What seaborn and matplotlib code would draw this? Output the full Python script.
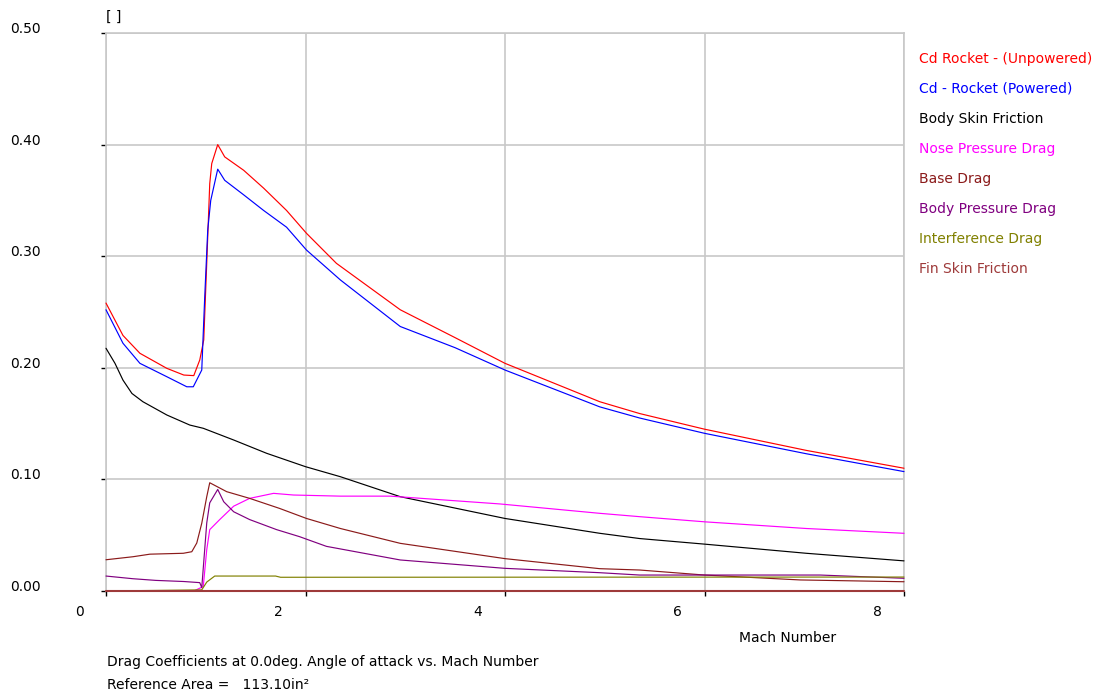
import matplotlib
matplotlib.use("Agg")
import matplotlib.pyplot as plt
import matplotlib.transforms as mtransforms
import pandas as pd
import seaborn as sns

# values (Mach number vs drag coefficient)
mach_unpowered = [0.0, 0.17, 0.34, 0.61, 0.78, 0.88, 0.94, 0.98, 1.01, 1.04, 1.06, 1.12, 1.19,
                  1.38, 1.58, 1.81, 2.01, 2.31, 2.95, 3.5, 4.0, 4.95, 5.35, 6.0, 7.02, 8.0]
cd_unpowered = [0.258, 0.229, 0.213, 0.1995, 0.1935, 0.193, 0.207, 0.225, 0.294, 0.365, 0.383, 0.400, 0.389,
                0.377, 0.361, 0.341, 0.3205, 0.2936, 0.252, 0.227, 0.204, 0.1696, 0.159, 0.145, 0.126, 0.110]

mach_powered = [0.0, 0.17, 0.34, 0.61, 0.81, 0.875, 0.96, 0.99, 1.02, 1.05, 1.12, 1.19, 1.38,
                1.58, 1.81, 2.01, 2.35, 2.95, 3.5, 4.0, 4.95, 5.35, 6.0, 7.02, 8.0]
cd_powered = [0.252, 0.222, 0.204, 0.192, 0.183, 0.183, 0.198, 0.264, 0.3235, 0.350, 0.378, 0.368, 0.355,
              0.341, 0.326, 0.3055, 0.2787, 0.237, 0.218, 0.198, 0.165, 0.155, 0.1413, 0.123, 0.107]

mach_skin = [0.0, 0.09, 0.17, 0.26, 0.37, 0.61, 0.84, 0.975, 1.28, 1.61, 2.0, 2.35, 2.95,
             4.0, 4.95, 5.35, 6.0, 7.02, 8.0]
cd_skin = [0.2175, 0.204, 0.189, 0.177, 0.1696, 0.1577, 0.1487, 0.1458, 0.1353, 0.1234, 0.1114, 0.1024, 0.0845,
           0.065, 0.0517, 0.047, 0.042, 0.0338, 0.027]

mach_nose = [0.0, 0.88, 0.975, 1.01, 1.04, 1.14, 1.28, 1.44, 1.68, 1.88, 2.35, 2.85,
             3.95, 4.95, 5.35, 6.0, 7.02, 8.0]
cd_nose = [0.0, 0.0, 0.004, 0.037, 0.055, 0.064, 0.076, 0.083, 0.0875, 0.086, 0.085, 0.085,
           0.078, 0.0696, 0.0666, 0.062, 0.056, 0.0517]

mach_base = [0.0, 0.27, 0.44, 0.775, 0.86, 0.91, 0.96, 1.01, 1.04, 1.21, 1.44, 1.74, 2.01,
             2.35, 2.95, 4.0, 4.95, 5.35, 6.0, 6.96, 8.0]
cd_base = [0.028, 0.0307, 0.033, 0.0338, 0.0352, 0.043, 0.0607, 0.0845, 0.097, 0.089, 0.083, 0.074, 0.065,
           0.056, 0.0427, 0.029, 0.020, 0.0188, 0.0143, 0.0099, 0.0083]

mach_bodyp = [0.0, 0.27, 0.5, 0.78, 0.94, 0.96, 1.01, 1.04, 1.12, 1.18, 1.28, 1.44, 1.71,
              1.94, 2.21, 2.95, 4.0, 4.95, 5.35, 6.0, 7.16, 8.0]
cd_bodyp = [0.0134, 0.011, 0.0095, 0.0085, 0.0075, 0.003, 0.061, 0.079, 0.091, 0.080, 0.071, 0.064, 0.055,
            0.0487, 0.040, 0.0278, 0.0203, 0.0164, 0.0143, 0.0143, 0.0143, 0.0114]

mach_interf = [0.0, 0.96, 1.01, 1.09, 1.7, 1.75, 8.0]
cd_interf = [0.0, 0.001, 0.008, 0.0134, 0.0134, 0.0123, 0.0125]

mach_fin = [0.0, 2.0, 4.0, 6.0, 8.0]
cd_fin = [0.0, 0.0, 0.0, 0.0, 0.0]

series = [
    ("Cd Rocket - (Unpowered)", mach_unpowered, cd_unpowered, "#ff0000", 0.85),
    ("Cd - Rocket (Powered)", mach_powered, cd_powered, "#0000ff", 0.85),
    ("Body Skin Friction", mach_skin, cd_skin, "#000000", 0.85),
    ("Nose Pressure Drag", mach_nose, cd_nose, "#ff00ff", 0.85),
    ("Base Drag", mach_base, cd_base, "#8b1a1a", 0.85),
    ("Body Pressure Drag", mach_bodyp, cd_bodyp, "#800080", 0.85),
    ("Interference Drag", mach_interf, cd_interf, "#808000", 0.85),
    ("Fin Skin Friction", mach_fin, cd_fin, "#9e3a3a", 1.5),
]

sns.set_style("white")
plt.rcParams["font.family"] = ["DejaVu Sans"]
plt.rcParams["font.size"] = 10
plt.rcParams["text.color"] = "black"
plt.rcParams["axes.labelcolor"] = "black"
plt.rcParams["xtick.color"] = "black"
plt.rcParams["ytick.color"] = "black"

fig = plt.figure(figsize=(11.07, 6.93), dpi=100)
ax = fig.add_axes([106 / 1107, 102 / 693, 798 / 1107, 558 / 693])

for name, x, y, col, lw in series:
    df = pd.DataFrame({"Mach": x, "Cd": y})
    sns.lineplot(data=df, x="Mach", y="Cd", color=col, linewidth=lw,
                 label=name, ax=ax, estimator=None, sort=False, clip_on=False, zorder=3)

ax.set_xlim(0, 8)
ax.set_ylim(0, 0.5)
ax.set_xticks([0, 2, 4, 6, 8])
ax.set_yticks([0.0, 0.1, 0.2, 0.3, 0.4, 0.5])
ax.set_yticklabels(["0.00", "0.10", "0.20", "0.30", "0.40", "0.50"])
ax.grid(True, color="#c8c8c8", linewidth=1.2)
ax.set_axisbelow(True)
for sp in ax.spines.values():
    sp.set_color("#c8c8c8")
    sp.set_linewidth(1.2)
    sp.set_zorder(1)

ax.tick_params(axis="both", direction="out", length=3.6, width=1, color="black",
               labelsize=10, labelcolor="black", left=True, bottom=True)
ax.tick_params(axis="y", pad=65.5)
ax.tick_params(axis="x", pad=6.4)
for lab in ax.get_yticklabels():
    lab.set_horizontalalignment("left")
    lab.set_verticalalignment("baseline")
shift = mtransforms.ScaledTranslation(-27 / 100, 0, fig.dpi_scale_trans)
for lab in ax.get_xticklabels():
    lab.set_transform(lab.get_transform() + shift)

ax.set_xlabel("Mach Number", fontsize=10)
ax.xaxis.set_label_coords((788 - 106) / 798, (591 - 631) / 558)
ax.set_ylabel("")

ax.legend(loc="upper left", bbox_to_anchor=(919 / 1107, 1 - 52 / 693),
          bbox_transform=fig.transFigure, frameon=False, handlelength=0,
          handletextpad=0, borderpad=0, borderaxespad=0, labelspacing=1.15,
          labelcolor="linecolor", fontsize=10)

fig.text(106 / 1107, 1 - 17 / 693, "[ ]", fontsize=10, va="center", ha="left")
fig.text(107 / 1107, 1 - 662 / 693, "Drag Coefficients at 0.0deg. Angle of attack vs. Mach Number",
         fontsize=10, va="center", ha="left")
fig.text(107 / 1107, 1 - 685 / 693, "Reference Area =   113.10in²",
         fontsize=10, va="center", ha="left")

fig.savefig("out.png", dpi=100)
